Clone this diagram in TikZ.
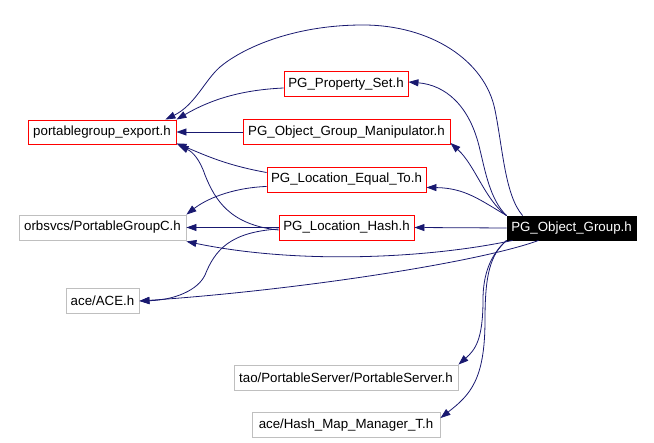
\documentclass[tikz,border=0pt]{standalone}
\usepackage{fontspec}
\setmainfont{Liberation Sans}
\usetikzlibrary{arrows.meta}
\definecolor{edgeblue}{RGB}{25,25,112}
\definecolor{extgray}{RGB}{191,191,191}
\begin{document}
\begin{tikzpicture}[x=1pt,y=-1pt,
  box/.style={draw,line width=0.9pt,inner sep=0pt,font=\fontsize{13.3}{16}\selectfont},
  redbox/.style={box,draw=red},
  graybox/.style={box,draw=extgray},
  mainbox/.style={box,draw=black,fill=black,text=white},
  dep/.style={draw=edgeblue,line width=0.8pt,-{Triangle[length=10pt,width=7pt]},fill=none},
]
\useasboundingbox (0,0) rectangle (654,443);
\node[redbox,minimum width=148pt,minimum height=24pt] (pge) at (102,132) {portablegroup\_export.h};
\node[redbox,minimum width=124pt,minimum height=25pt] (pps) at (346,84) {PG\_Property\_Set.h};
\node[redbox,minimum width=207pt,minimum height=25pt] (pogm) at (346.5,132) {PG\_Object\_Group\_Manipulator.h};
\node[redbox,minimum width=159pt,minimum height=25pt] (plet) at (346.5,179.5) {PG\_Location\_Equal\_To.h};
\node[redbox,minimum width=135pt,minimum height=25pt] (plh) at (346.5,227.5) {PG\_Location\_Hash.h};
\node[mainbox,minimum width=129pt,minimum height=24pt] (pog) at (571.5,228) {PG\_Object\_Group.h};
\node[graybox,minimum width=167pt,minimum height=25pt] (opg) at (102.5,227.5) {orbsvcs/PortableGroupC.h};
\node[graybox,minimum width=73pt,minimum height=25pt] (ace) at (102.5,301) {ace/ACE.h};
\node[graybox,minimum width=224pt,minimum height=25pt] (tps) at (346,377.5) {tao/PortableServer/PortableServer.h};
\node[graybox,minimum width=188pt,minimum height=25pt] (hmm) at (346,425) {ace/Hash\_Map\_Manager\_T.h};

% from PG_Object_Group.h
\draw[dep] ([xshift=16pt]pog.north west) .. controls (505,195) and (503,150) .. (495,110)
  .. controls (485,60) and (430,25) .. (363,25)
  .. controls (290,25) and (240,50) .. (220,67)
  .. controls (205,80) and (195,105) .. ([xshift=-11pt]pge.north east);
\draw[dep] (pog.north west) .. controls (490,200) and (485,170) .. (480,150)
  .. controls (470,105) and (445,85) .. ([yshift=2pt]pps.east);
\draw[dep] (pog.north west) .. controls (485,200) and (475,165) .. ([yshift=2pt]pogm.south east);
\draw[dep] (pog.north west) .. controls (480,200) and (465,188) .. ([yshift=5pt]plet.south east);
\draw[dep] (pog.west) -- (plh.east);
\draw[dep] ([xshift=6pt]pog.south west) .. controls (430,258) and (300,265) .. ([yshift=-1pt]opg.south east);
\draw[dep] ([xshift=32pt]pog.south west) .. controls (480,262) and (300,290) .. (ace.east);
\draw[dep] (pog.south west) .. controls (490,255) and (483,275) .. (483,300)
  .. controls (483,340) and (475,350) .. (tps.north east);
\draw[dep] (pog.south west) .. controls (490,255) and (485,275) .. (485,320)
  .. controls (485,380) and (470,395) .. ([yshift=-6pt]hmm.north east);

% from PG_Location_Equal_To.h
\draw[dep] ([yshift=7pt]plet.west) .. controls (225,165) and (205,155) .. ([yshift=1pt]pge.south east);
\draw[dep] ([yshift=6pt]plet.south west) .. controls (230,188) and (205,200) .. (opg.north east);

% from PG_Location_Hash.h
\draw[dep] (plh.west) -- (opg.east);
\draw[dep] ([yshift=-2.5pt]plh.west) .. controls (230,225) and (215,200) .. (205,175)
  .. controls (200,160) and (193,152) .. ([xshift=2pt,yshift=-1pt]pge.south east);
\draw[dep] ([yshift=-1.5pt]plh.west) .. controls (230,232) and (215,250) .. (205,275)
  .. controls (198,290) and (175,300) .. (ace.east);

% from PG_Property_Set.h and PG_Object_Group_Manipulator.h
\draw[dep] ([yshift=-4pt]pps.west) .. controls (240,90) and (210,100) .. (pge.north east);
\draw[dep] (pogm.west) -- (pge.east);
\end{tikzpicture}
\end{document}
